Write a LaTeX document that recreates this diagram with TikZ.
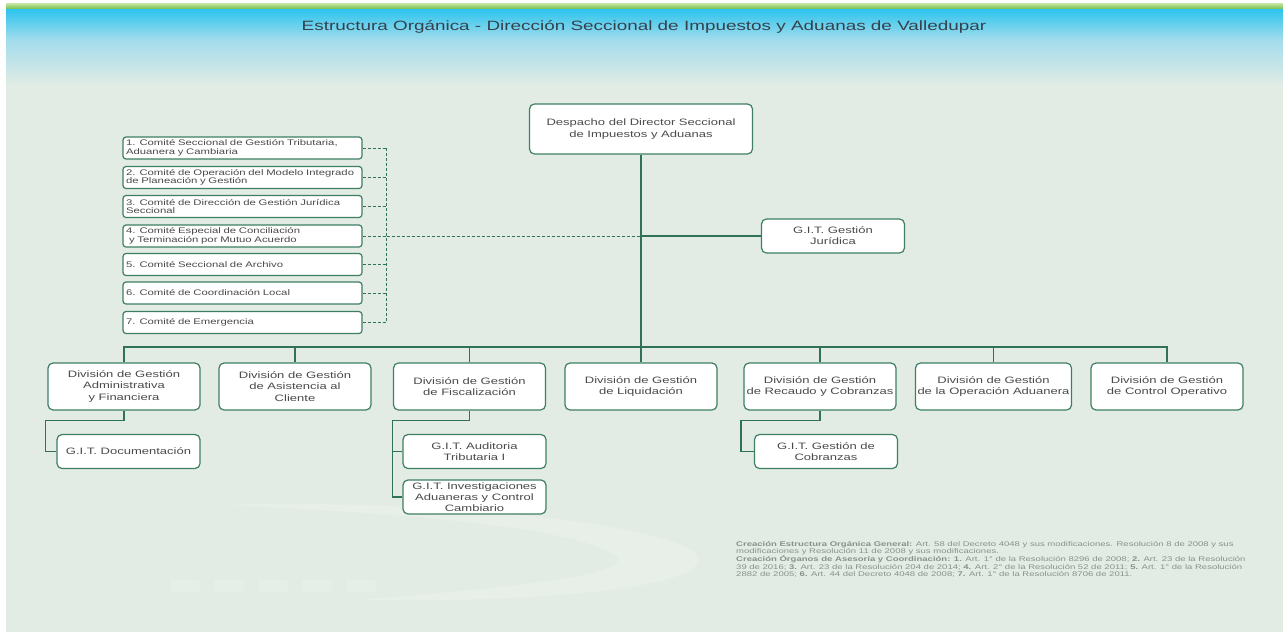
\documentclass[tikz,border=0pt]{standalone}
\usepackage{fontspec}
\setmainfont{Liberation Sans}[FakeStretch=1.4]

\definecolor{bgpale}{HTML}{E2ECE4}
\definecolor{skycyan}{HTML}{2CC4EE}
\definecolor{skylight}{HTML}{A3DCEC}
\definecolor{stripegreen}{HTML}{74BF4A}
\definecolor{stripepale}{HTML}{C9E6A6}
\definecolor{boxline}{HTML}{3E7E63}
\definecolor{linkgreen}{HTML}{2F7257}
\definecolor{boxtext}{HTML}{4A4A4A}
\definecolor{titletext}{HTML}{34424E}
\definecolor{notetext}{HTML}{8A908D}

\newcommand{\nohyph}{\hyphenpenalty=10000\relax}

\tikzset{
  unit/.style={draw=boxline, line width=1.2pt, fill=white, rounded corners=5pt, align=center, text=boxtext, font=\fontsize{9.3}{11.2}\selectfont, inner sep=2pt},
  division/.style={unit, minimum width=152pt, minimum height=47pt},
  git/.style={unit, minimum width=143pt, minimum height=34pt},
  comite/.style={unit, rounded corners=3pt, minimum height=22pt, text width=233pt, inner xsep=3pt, align=left, font=\fontsize{8.1}{8.6}\selectfont\nohyph},
  link/.style={draw=linkgreen, line width=1.4pt},
  dlink/.style={draw=linkgreen, line width=1pt, dash pattern=on 3pt off 2pt},
}

\begin{document}
\begin{tikzpicture}[x=1pt, y=-1pt]
  \useasboundingbox (0,0) rectangle (1283,635);
  \fill[white] (0,0) rectangle (1283,635);
  \fill[bgpale] (6,3) rectangle (1283,632);
  \shade[top color=stripepale, bottom color=stripegreen] (6,3) rectangle (1283,9);
  \shade[top color=skycyan, bottom color=skylight] (6,9) rectangle (1283,40);
  \shade[top color=skylight, bottom color=bgpale] (6,40) rectangle (1283,86);

  \fill[white, opacity=0.18] (225,505) .. controls (470,498) and (700,530) .. (698,560)
    .. controls (696,590) and (520,603) .. (360,600) .. controls (540,585) and (650,572) .. (610,552)
    .. controls (560,525) and (380,512) .. (225,505);
  \foreach \i in {0,...,4}
    \fill[white, opacity=0.15, rounded corners=2pt] (170+44*\i,580) rectangle ++(30,12);

  \node[text=titletext, font=\fontsize{13.5}{15}\selectfont] (title) at (644,27) {Estructura Orgánica - Dirección Seccional de Impuestos y Aduanas de Valledupar};

  \node[unit, minimum width=223pt, minimum height=50pt] (desp) at (641,129) {Despacho del Director Seccional\\de Impuestos y Aduanas};
  \node[git] (jur) at (833,236) {G.I.T. Gestión\\Jurídica};

  \node[comite] (c1) at (242.5,148) {1. Comité Seccional de Gestión Tributaria,\\Aduanera y Cambiaria};
  \node[comite] (c2) at (242.5,177.5) {2. Comité de Operación del Modelo Integrado\\de Planeación y Gestión};
  \node[comite] (c3) at (242.5,206.5) {3. Comité de Dirección de Gestión Jurídica\\Seccional};
  \node[comite] (c4) at (242.5,236) {4. Comité Especial de Conciliación\\\hspace{3pt}y Terminación por Mutuo Acuerdo};
  \node[comite] (c5) at (242.5,264.5) {5. Comité Seccional de Archivo};
  \node[comite] (c6) at (242.5,293) {6. Comité de Coordinación Local};
  \node[comite] (c7) at (242.5,322.5) {7. Comité de Emergencia};

  \node[division] (adm) at (124,386.5) {División de Gestión\\Administrativa\\y Financiera};
  \node[division] (asi) at (295,386.5) {División de Gestión\\de Asistencia al\\Cliente};
  \node[division] (fis) at (469.5,386.5) {División de Gestión\\de Fiscalización};
  \node[division] (liq) at (641,386.5) {División de Gestión\\de Liquidación};
  \node[division] (rec) at (820,386.5) {División de Gestión\\de Recaudo y Cobranzas};
  \node[division] (ope) at (993.5,386.5) {División de Gestión\\de la Operación Aduanera};
  \node[division] (con) at (1167,386.5) {División de Gestión\\de Control Operativo};

  \node[git] (doc) at (128.5,451.5) {G.I.T. Documentación};
  \node[git] (aud) at (474.5,451.5) {G.I.T. Auditoria\\Tributaria I};
  \node[git] (inv) at (474.5,497) {G.I.T. Investigaciones\\Aduaneras y Control\\Cambiario};
  \node[git] (cob) at (826,451.5) {G.I.T. Gestión de\\Cobranzas};

  \coordinate (bus) at (641,347);
  \draw[link] (desp.south) -- (liq.north);
  \draw[link] (adm.north) |- (bus) -| (con.north);
  \foreach \d in {asi,fis,rec,ope}
    \draw[link] (\d.north) -- (\d.north |- bus);
  \draw[link] (c4.east -| desp.south) -- (jur.west);

  \foreach \c in {c1,c2,c3,c4,c5,c6,c7}
    \draw[dlink] (\c.east) -- ([xshift=24pt]\c.east);
  \draw[dlink] ([xshift=24pt]c1.east) -- ([xshift=24pt]c7.east);
  \draw[dlink] ([xshift=24pt]c4.east) -- (c4.east -| desp.south);

  \draw[link] (adm.south) -- ++(0,10) -| ([xshift=-11pt]doc.west) -- (doc.west);
  \draw[link] (fis.south) -- ++(0,10) -| ([xshift=-10pt]inv.west) -- (inv.west);
  \draw[link] ([xshift=-10pt]aud.west) -- (aud.west);
  \draw[link] (rec.south) -- ++(0,10) -| ([xshift=-13pt]cob.west) -- (cob.west);

  \node[anchor=north west, inner sep=0pt, align=left, text=notetext, font=\fontsize{6.8}{7.6}\selectfont] (note) at (736,541)
    {\textbf{Creación Estructura Orgánica General:} Art. 58 del Decreto 4048 y sus modificaciones. Resolución 8 de 2008 y sus\\
     modificaciones y Resolución 11 de 2008 y sus modificaciones.\\
     \textbf{Creación Órganos de Asesoría y Coordinación: 1.} Art. 1° de la Resolución 8296 de 2008; \textbf{2.} Art. 23 de la Resolución\\
     39 de 2016; \textbf{3.} Art. 23 de la Resolución 204 de 2014; \textbf{4.} Art. 2° de la Resolución 52 de 2011; \textbf{5.} Art. 1° de la Resolución\\
     2882 de 2005; \textbf{6.} Art. 44 del Decreto 4048 de 2008; \textbf{7.} Art. 1° de la Resolución 8706 de 2011.};
\end{tikzpicture}
\end{document}
